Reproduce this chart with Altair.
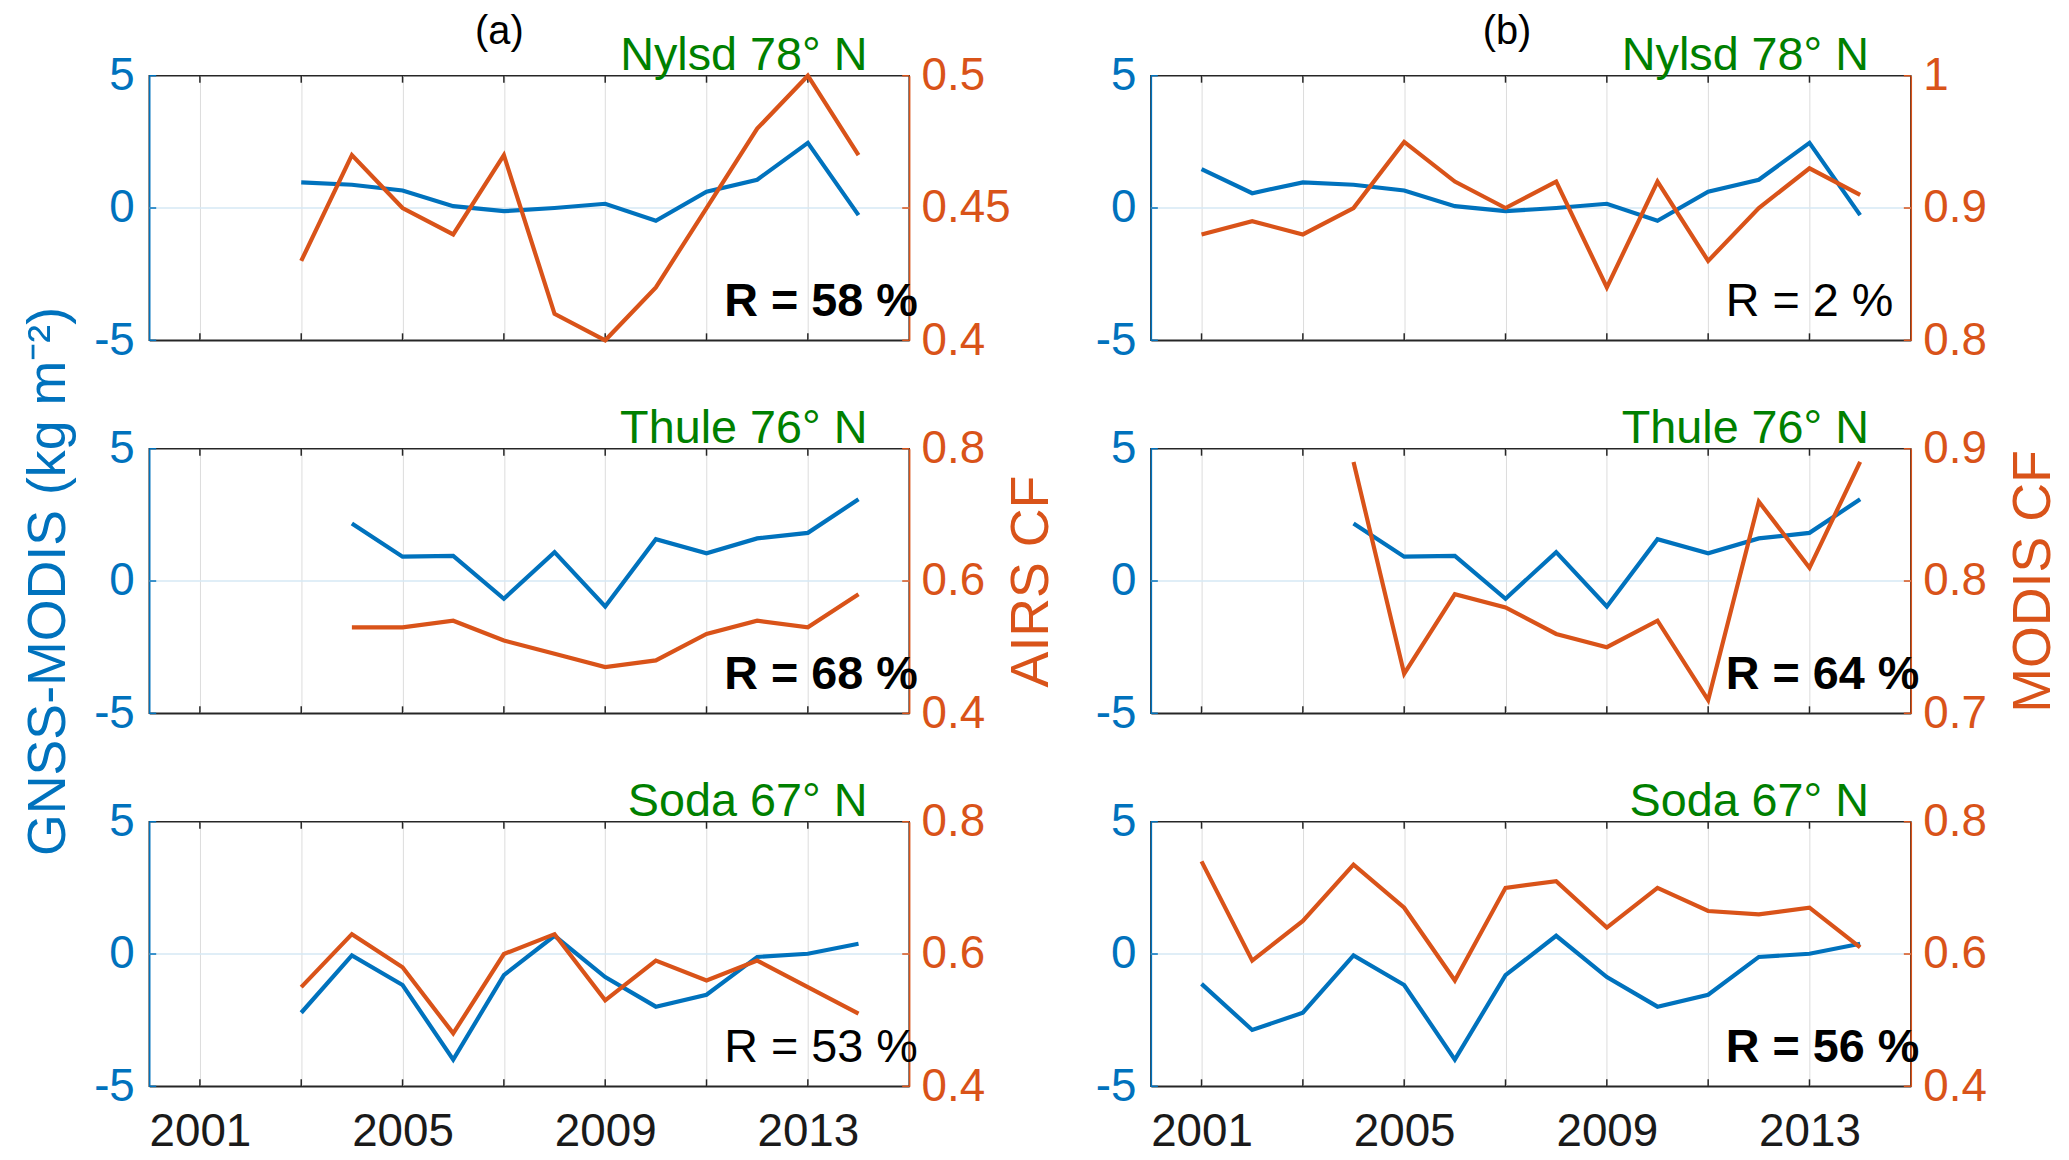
import altair as alt
import pandas as pd

# ---------------- data ----------------
years_gnss_nylsd = list(range(2001, 2015))
gnss_nylsd = [1.47, 0.56, 0.97, 0.88, 0.66, 0.07, -0.12, 0.0, 0.16, -0.48, 0.62, 1.07, 2.46, -0.27]
years_gnss_thule = list(range(2004, 2015))
gnss_thule = [2.17, 0.92, 0.95, -0.67, 1.09, -0.96, 1.58, 1.05, 1.61, 1.82, 3.09]
years_gnss_soda = list(range(2001, 2015))
gnss_soda = [-1.13, -2.87, -2.22, -0.05, -1.17, -3.99, -0.80, 0.69, -0.87, -1.99, -1.54, -0.11, 0.01, 0.39]

years_airs_nylsd = list(range(2003, 2015))
airs_nylsd = [0.43, 0.47, 0.45, 0.44, 0.47, 0.41, 0.40, 0.42, 0.45, 0.48, 0.50, 0.47]
years_airs_thule = list(range(2004, 2015))
airs_thule = [0.53, 0.53, 0.54, 0.51, 0.49, 0.47, 0.48, 0.52, 0.54, 0.53, 0.58]
years_airs_soda = list(range(2003, 2015))
airs_soda = [0.55, 0.63, 0.58, 0.48, 0.60, 0.63, 0.53, 0.59, 0.56, 0.59, 0.55, 0.51]

years_modis_nylsd = list(range(2001, 2015))
modis_nylsd = [0.88, 0.89, 0.88, 0.90, 0.95, 0.92, 0.90, 0.92, 0.84, 0.92, 0.86, 0.90, 0.93, 0.91]
years_modis_thule = list(range(2004, 2015))
modis_thule = [0.89, 0.73, 0.79, 0.78, 0.76, 0.75, 0.77, 0.71, 0.86, 0.81, 0.89]
years_modis_soda = list(range(2001, 2015))
modis_soda = [0.74, 0.59, 0.65, 0.735, 0.67, 0.56, 0.70, 0.71, 0.64, 0.70, 0.665, 0.66, 0.67, 0.61]

stations = ["Nylsd 78° N", "Thule 76° N", "Soda 67° N"]
r_airs = ["R = 58 %", "R = 68 %", "R = 53 %"]
r_airs_bold = [True, True, False]
r_modis = ["R = 2 %", "R = 64 %", "R = 56 %"]
r_modis_bold = [False, True, True]

airs_domains = [[0.4, 0.5], [0.4, 0.8], [0.4, 0.8]]
airs_ticks = [[0.4, 0.45, 0.5], [0.4, 0.6, 0.8], [0.4, 0.6, 0.8]]
modis_domains = [[0.8, 1.0], [0.7, 0.9], [0.4, 0.8]]
modis_ticks = [[0.8, 0.9, 1.0], [0.7, 0.8, 0.9], [0.4, 0.6, 0.8]]

grid_years = [2001, 2003, 2005, 2007, 2009, 2011, 2013]
gnss_ticks = [-5, 0, 5]
year_domain = [2000, 2015]
panel_labels = ["(a)", "(b)"]
left_title = "GNSS-MODIS (kg m\u207b\u00b2)"
airs_title = "AIRS CF"
modis_title = "MODIS CF"

# ---------------- style ----------------
BLUE = "#0072BD"
ORANGE = "#D95319"
GREEN = "#008000"
BLACK = "#262626"
GRID = "#dcdcdc"
ZERO = "#d6e8f5"
FONT = "Liberation Sans"
W, H = 764, 266
TICK = 46


def panel(g_years, g_vals, c_years, c_vals, c_dom, c_ticks, station, r_text, r_bold,
          ltitle, rtitle, show_x, top_label, top_x):
    x_axis_kw = dict(values=grid_years, grid=True, gridColor=GRID, gridWidth=1, ticks=False,
                     domain=True, domainColor=BLACK, domainWidth=1.5, labels=show_x,
                     labelFontSize=TICK, labelColor="#1a1a1a", labelPadding=24,
                     labelFlush=False, labelOverlap=False, title=None)
    if show_x:
        x_axis_kw["labelExpr"] = "datum.value % 4 == 1 ? '' + datum.value : ''"
    x_enc = alt.X("year:Q", scale=alt.Scale(domain=year_domain, nice=False, zero=False),
                  axis=alt.Axis(**x_axis_kw))

    yb_axis = dict(orient="left", values=gnss_ticks, grid=False, ticks=False,
                   domainColor=BLUE, domainWidth=1.5, labelColor=BLUE, labelFontSize=TICK,
                   labelPadding=15, labelExpr="'' + datum.value", labelFlush=False,
                   title=None)
    if ltitle:
        yb_axis.update(title=ltitle, titleColor=BLUE, titleFontSize=54,
                       titleFontWeight="normal", titlePadding=18)
    yb = alt.Y("v:Q", scale=alt.Scale(domain=[-5, 5], nice=False, zero=False),
               axis=alt.Axis(**yb_axis))

    yo_axis = dict(orient="right", values=c_ticks, grid=False, ticks=False,
                   domainColor=ORANGE, domainWidth=1.5, labelColor=ORANGE, labelFontSize=TICK,
                   labelPadding=12, labelExpr="'' + datum.value", labelFlush=False,
                   title=None)
    if rtitle:
        yo_axis.update(title=rtitle, titleColor=ORANGE, titleFontSize=54,
                       titleFontWeight="normal", titleAngle=270, titleBaseline="top",
                       titlePadding=20)
    yo = alt.Y("v:Q", scale=alt.Scale(domain=c_dom, nice=False, zero=False),
               axis=alt.Axis(**yo_axis))

    gdf = pd.DataFrame({"year": g_years, "v": g_vals})
    cdf = pd.DataFrame({"year": c_years, "v": c_vals})
    tick_years = pd.DataFrame({"year": grid_years})

    zero_line = alt.Chart(pd.DataFrame({"v": [0]})).mark_rule(
        color=ZERO, strokeWidth=1.5).encode(y=yb)
    blue_line = alt.Chart(gdf).mark_line(color=BLUE, strokeWidth=4.2).encode(x=x_enc, y=yb)
    blue_ticks = alt.Chart(pd.DataFrame({"v": gnss_ticks})).mark_rule(
        color=BLUE, strokeWidth=1.5).encode(y=yb, x=alt.value(0), x2=alt.value(7))
    blue_layer = alt.layer(zero_line, blue_line, blue_ticks)

    orange_line = alt.Chart(cdf).mark_line(color=ORANGE, strokeWidth=4.2).encode(x=x_enc, y=yo)
    orange_ticks = alt.Chart(pd.DataFrame({"v": c_ticks})).mark_rule(
        color=ORANGE, strokeWidth=1.5).encode(y=yo, x=alt.value(W - 7), x2=alt.value(W))
    orange_layer = alt.layer(orange_line, orange_ticks)

    xt_bottom = alt.Chart(tick_years).mark_rule(color=BLACK, strokeWidth=1.5).encode(
        x=x_enc, y=alt.value(H - 7), y2=alt.value(H))
    xt_top = alt.Chart(tick_years).mark_rule(color=BLACK, strokeWidth=1.5).encode(
        x=x_enc, y=alt.value(0), y2=alt.value(7))

    st = alt.Chart(pd.DataFrame({"t": [station]})).mark_text(
        align="right", baseline="alphabetic", fontSize=47, color=GREEN).encode(
        text="t:N", x=alt.value(W - 42), y=alt.value(-6))
    rt = alt.Chart(pd.DataFrame({"t": [r_text]})).mark_text(
        align="left", baseline="alphabetic", fontSize=47, color="black",
        fontWeight="bold" if r_bold else "normal").encode(
        text="t:N", x=alt.value(578), y=alt.value(H - 24))

    layers = [xt_bottom, xt_top, blue_layer, orange_layer, st, rt]
    if top_label:
        lab = alt.Chart(pd.DataFrame({"t": [top_label]})).mark_text(
            align="center", baseline="alphabetic", fontSize=40, color="black").encode(
            text="t:N", x=alt.value(top_x), y=alt.value(-32))
        layers.append(lab)

    return alt.layer(*layers).resolve_scale(y="independent").properties(width=W, height=H)


g_sets = [(years_gnss_nylsd, gnss_nylsd), (years_gnss_thule, gnss_thule), (years_gnss_soda, gnss_soda)]
a_sets = [(years_airs_nylsd, airs_nylsd), (years_airs_thule, airs_thule), (years_airs_soda, airs_soda)]
m_sets = [(years_modis_nylsd, modis_nylsd), (years_modis_thule, modis_thule), (years_modis_soda, modis_soda)]

cells = []
for i in range(3):
    gy, gv = g_sets[i]
    ay, av = a_sets[i]
    start = min(ay)
    gy_a = [y for y in gy if y >= start]
    gv_a = [v for y, v in zip(gy, gv) if y >= start]
    left = panel(gy_a, gv_a, ay, av, airs_domains[i], airs_ticks[i], stations[i],
                 r_airs[i], r_airs_bold[i],
                 left_title if i == 1 else None, airs_title if i == 1 else None,
                 i == 2, panel_labels[0] if i == 0 else None, 352)
    my, mv = m_sets[i]
    right = panel(gy, gv, my, mv, modis_domains[i], modis_ticks[i], stations[i],
                  r_modis[i], r_modis_bold[i],
                  None, modis_title if i == 1 else None,
                  i == 2, panel_labels[1] if i == 0 else None, 358)
    cells.extend([left, right])

chart = alt.concat(*cells, columns=2, spacing={"row": 109, "column": 243}, bounds="flush").properties(
    padding={"left": 13, "top": 0, "right": 0, "bottom": 0}
).configure(font=FONT).configure_view(stroke=BLACK, strokeWidth=1.5)

chart.save("out.html", embed_options={"renderer": "svg", "actions": False})
